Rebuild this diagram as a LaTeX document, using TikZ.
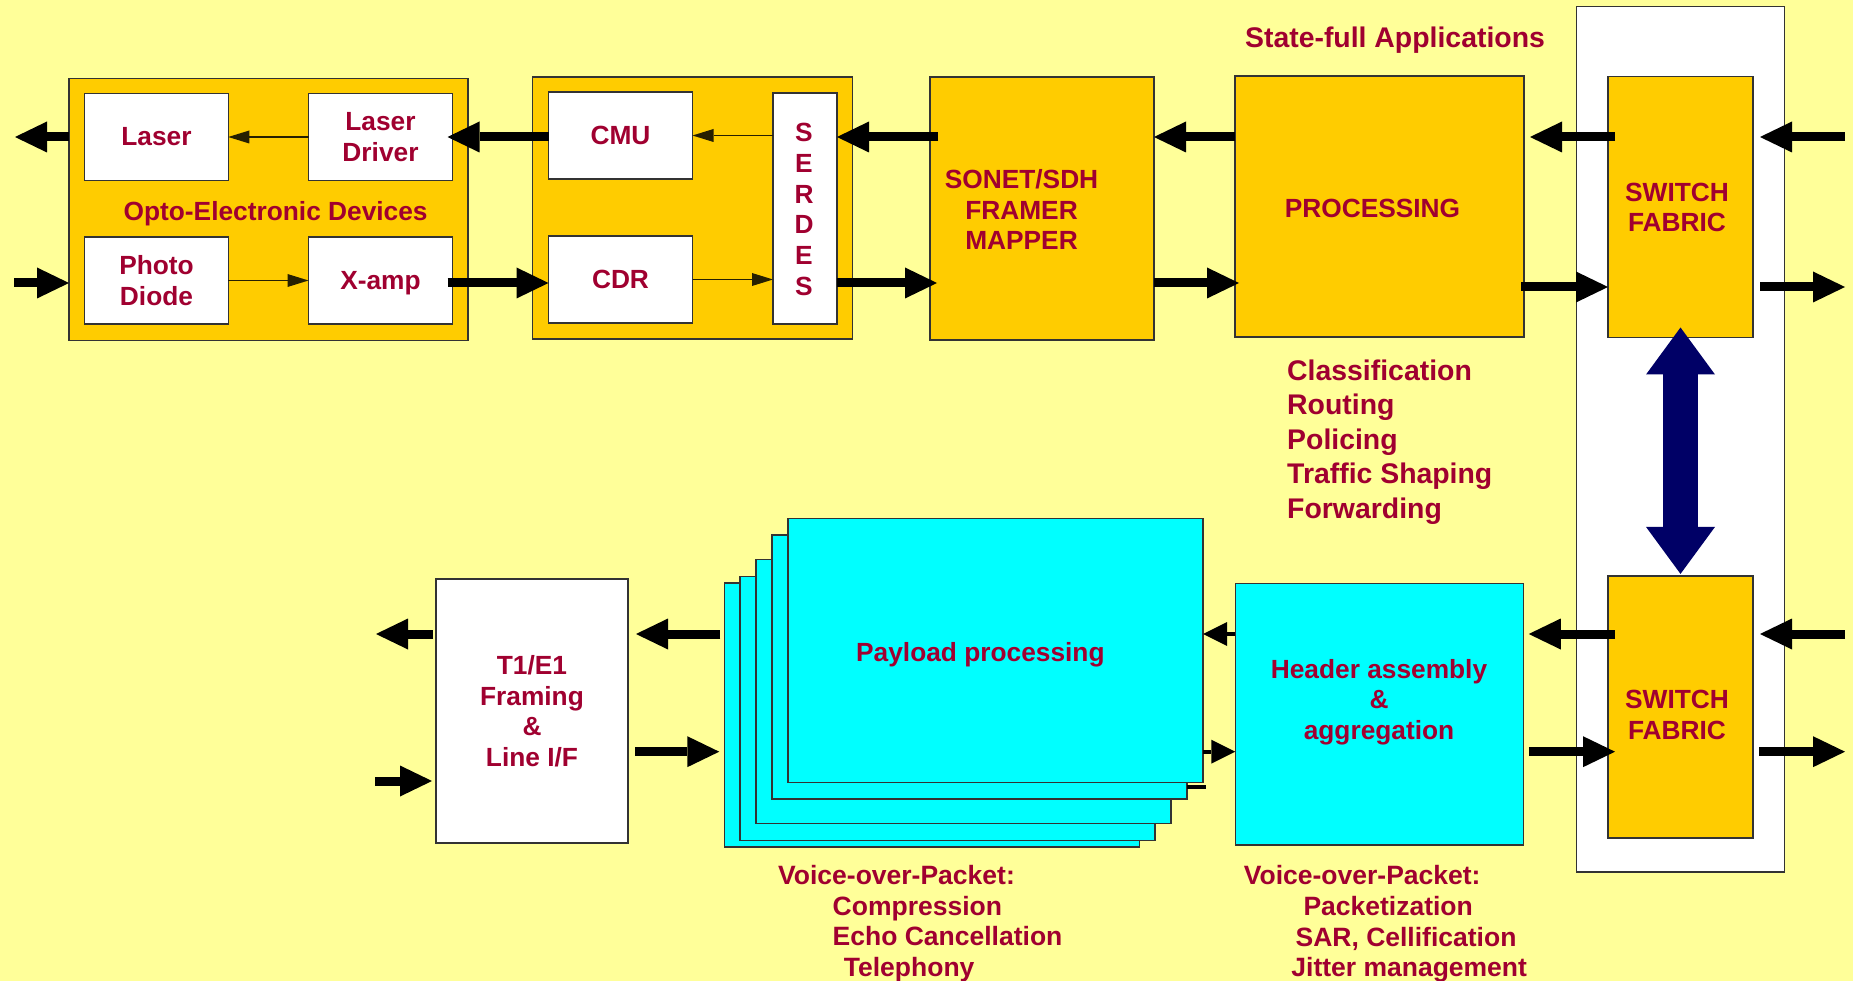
\documentclass[tikz,border=0pt]{standalone}
\usepackage{fontspec}
\setmainfont{Liberation Sans}
\usetikzlibrary{arrows.meta}
\definecolor{bgy}{RGB}{255,255,153}
\definecolor{orng}{RGB}{255,204,0}
\definecolor{cyn}{RGB}{0,255,255}
\definecolor{navyb}{RGB}{0,0,102}
\definecolor{txr}{RGB}{160,0,48}
\newcommand\txtA{\fontsize{26.3}{30.5}\selectfont\bfseries}
\newcommand\txtB{\fontsize{28.4}{34.6}\selectfont\bfseries}
\newcommand\txtC{\fontsize{26.5}{30.3}\selectfont\bfseries}
\newcommand\txtS{\fontsize{26.3}{30.7}\selectfont\bfseries}
\begin{document}
\begin{tikzpicture}[x=1pt,y=-1pt,
  blk/.style={draw=black!80, line width=1.2pt, inner sep=0pt, outer sep=0pt},
  obox/.style={blk, fill=orng},
  wbox/.style={blk, fill=white},
  cbox/.style={blk, fill=cyn},
  lbl/.style={text=txr, font=\txtA, align=center, inner sep=0pt},
  listA/.style={text=txr, font=\txtB, inner sep=0pt, anchor=base west},
  listB/.style={text=txr, font=\txtC, inner sep=0pt, anchor=base west},
  fat/.style={draw=black, line width=9pt, -{Triangle[length=32pt,width=31pt,line width=0pt]}},
  slim/.style={draw=black!85!orng, line width=1.3pt, -{Triangle[length=21pt,width=13pt,line width=0pt]}},
  small/.style={draw=black, line width=4pt, -{Triangle[length=24pt,width=24pt,line width=0pt]}},
  dbl/.style={draw=navyb, line width=34.6pt, {Triangle[length=47pt,width=69pt,line width=0pt]}-{Triangle[length=47pt,width=69pt,line width=0pt]}},
  stk/.style={cbox, minimum width=415, minimum height=264}
]
\useasboundingbox (0,0) rectangle (1853,981);
\fill[bgy] (0,0) rectangle (1853,981);

% row levels and free ends
\coordinate (rowA) at (0,137);
\coordinate (rowB) at (0,283);
\coordinate (rowC) at (0,287);
\coordinate (rowD) at (0,634);
\coordinate (rowE) at (0,751.7);
\coordinate (rowF) at (0,781);
\coordinate (rowG) at (0,787);
\coordinate (outL) at (15,137);
\coordinate (inL) at (14,283);
\coordinate (inR1) at (1845,137);
\coordinate (outR1) at (1845,287);
\coordinate (inR2) at (1845,634);
\coordinate (outR2) at (1845,751.7);
\coordinate (outL2) at (376,634);
\coordinate (inL2) at (375,781);

% switch container
\node[wbox, minimum width=207.8, minimum height=865.2] (cont) at (1680.4,439.3) {};

% top row
\node[obox, minimum width=399, minimum height=262] (opto) at (268.5,209.5) {};
\node[wbox, lbl, minimum width=143.5, minimum height=86.5] (laser) at (156.5,137) {Laser};
\node[wbox, lbl, minimum width=144, minimum height=86.5] (ldrv) at (380.5,137) {Laser\\Driver};
\node[wbox, lbl, minimum width=143.5, minimum height=87] (pd) at (156.5,280.5) {Photo\\Diode};
\node[wbox, lbl, text depth=0pt, minimum width=144, minimum height=87] (xamp) at (380.5,280.5) {X-amp};
\node[lbl, text depth=0pt] (optot) at (275.6,210.5) {Opto-Electronic Devices};

\node[obox, minimum width=320, minimum height=262] (cmubox) at (692.5,208) {};
\node[wbox, lbl, minimum width=144, minimum height=87] (cmu) at (620.5,135.5) {CMU};
\node[wbox, lbl, minimum width=144, minimum height=87] (cdr) at (620.5,279.5) {CDR};
\node[wbox, minimum width=64, minimum height=231] (serdes) at (805,208.5) {};
\node[lbl, font=\txtS] (serdest) at (804,209.4) {S\\E\\R\\D\\E\\S};

\node[obox, minimum width=224, minimum height=263] (sonet) at (1042,208.5) {};
\node[lbl] (sonett) at (1021.5,209.6) {SONET/SDH\\FRAMER\\MAPPER};
\node[obox, minimum width=289, minimum height=261] (proc) at (1379.5,206.5) {};
\node[lbl] (proct) at (1372.5,208.7) {PROCESSING};
\node[obox, minimum width=145, minimum height=261] (sf1) at (1680.5,207) {};
\node[lbl] (sf1t) at (1677,207.5) {SWITCH\\FABRIC};

\node[text=txr, font=\txtB, inner sep=0pt, anchor=base] (state) at (1395,47.7) {State-full Applications};

\node[listA] (l1) at (1287,380.3) {Classification};
\node[listA] (l2) at (1287,414.8) {Routing};
\node[listA] (l3) at (1287,449.3) {Policing};
\node[listA] (l4) at (1287,483.8) {Traffic Shaping};
\node[listA] (l5) at (1287,518.3) {Forwarding};

% bottom row
\node[obox, minimum width=145, minimum height=262] (sf2) at (1680.5,706.9) {};
\node[lbl] (sf2t) at (1677,714.8) {SWITCH\\FABRIC};
\node[cbox, minimum width=288.5, minimum height=261.5] (header) at (1379.5,714.2) {};
\node[lbl] (headert) at (1379,702) {Header assembly\\\&\\aggregation};

\node[stk] (p5) at (931.75,715) {};
\node[stk] (p4) at (947.5,708.5) {};
\node[stk] (p3) at (963.5,691.5) {};
\node[stk] (p2) at (979.5,667) {};
\node[stk] (p1) at (995.5,650.5) {};
\node[lbl] (payt) at (980.4,655) {Payload processing};

\node[wbox, lbl, minimum width=192, minimum height=264] (t1) at (532,711) {T1/E1\\Framing\\\&\\Line I/F};

\node[listB] (v1) at (778,884.5) {Voice-over-Packet:};
\node[listB] (v2) at (832.5,915.5) {Compression};
\node[listB] (v3) at (832.5,945.2) {Echo Cancellation};
\node[listB] (v4) at (843.7,976) {Telephony};
\node[listB] (w1) at (1243.7,884.3) {Voice-over-Packet:};
\node[listB] (w2) at (1303.3,915.5) {Packetization};
\node[listB] (w3) at (1295.4,946) {SAR, Cellification};
\node[listB] (w4) at (1291.2,976) {Jitter management};

% double arrow between switch fabrics
\draw[dbl] ([yshift=10pt]sf1.south) -- ([yshift=2pt]sf2.north);

% connectors, top row
\draw[fat] (opto.west |- rowA) -- (outL);
\draw[slim] (ldrv.west |- rowA) -- (laser.east |- rowA);
\draw[fat] (cmu.west |- rowA) -- ([xshift=-5pt]ldrv.east |- rowA);
\draw[slim] (serdes.west |- cmu) -- (cmu.east);
\draw[fat] ([xshift=8pt]sonet.west |- rowA) -- (serdes.east |- rowA);
\draw[fat] (proc.west |- rowA) -- (sonet.east |- rowA);
\draw[fat] ([xshift=7pt]sf1.west |- rowA) -- ([xshift=6pt]proc.east |- rowA);
\draw[fat] (inR1) -- ([xshift=7pt]sf1.east |- rowA);

\draw[fat] (inL) -- (opto.west |- rowB);
\draw[slim] (pd.east) -- (xamp.west);
\draw[fat] ([xshift=-5pt]xamp.east |- rowB) -- (cdr.west |- rowB);
\draw[slim] (cdr.east) -- (serdes.west |- cdr);
\draw[fat] (serdes.east |- rowB) -- ([xshift=7pt]sonet.west |- rowB);
\draw[fat] (sonet.east |- rowB) -- ([xshift=4pt]proc.west |- rowB);
\draw[fat] ([xshift=-3pt]proc.east |- rowC) -- (sf1.west |- rowC);
\draw[fat] ([xshift=7pt]sf1.east |- rowC) -- (outR1);

% connectors, bottom row
\draw[fat] ([xshift=7pt]sf2.west |- rowD) -- ([xshift=5pt]header.east |- rowD);
\draw[fat] (inR2) -- ([xshift=7pt]sf2.east |- rowD);
\draw[fat] ([xshift=5pt]header.east |- rowE) -- ([xshift=7pt]sf2.west |- rowE);
\draw[fat] ([xshift=6pt]sf2.east |- rowE) -- (outR2);
\draw[small] (header.west |- rowD) -- (p1.east |- rowD);
\draw[small] (p1.east |- rowE) -- (header.west |- rowE);
\draw[line width=4pt] (p2.east |- rowG) -- ([xshift=3pt]p1.east |- rowG);
\draw[fat] ([xshift=-4pt]p5.west |- rowD) -- ([xshift=8pt]t1.east |- rowD);
\draw[fat] ([xshift=7pt]t1.east |- rowE) -- ([xshift=-5pt]p5.west |- rowE);
\draw[fat] ([xshift=-3pt]t1.west |- rowD) -- (outL2);
\draw[fat] (inL2) -- ([xshift=-4pt]t1.west |- rowF);
\end{tikzpicture}
\end{document}
